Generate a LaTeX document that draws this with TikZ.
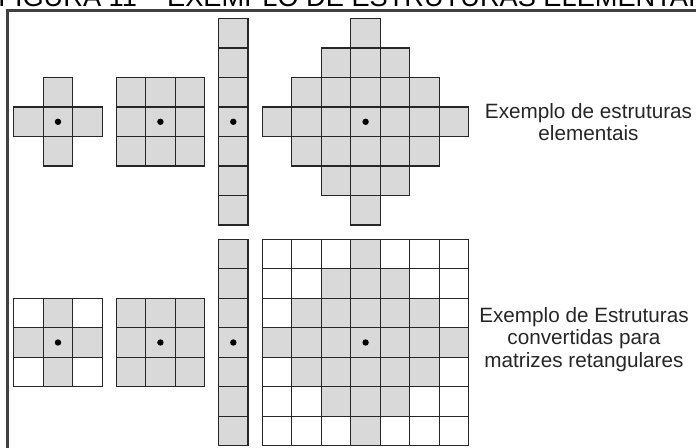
\documentclass[tikz,border=0pt]{standalone}
\usepackage{fontspec}
\setmainfont{Liberation Sans}
\usetikzlibrary{positioning}

\begin{document}
\begin{tikzpicture}[
    x=0.5pt, y=-0.5pt,
    cell/.style={draw=black!85, line width=0.6pt, fill=black!15, minimum size=14.75pt, inner sep=0pt, outer sep=0pt},
    blank/.style={cell, fill=white},
    pivot/.style={circle, fill=black, inner sep=0pt, minimum size=3.2pt},
    caption/.style={align=center, inner sep=0pt, text=black!85, font=\fontsize{10.35}{11.3}\selectfont}
]
\useasboundingbox (0,0) rectangle (696,448);
\node[anchor=base west, inner sep=0pt, font=\fontsize{13.6}{16}\selectfont] (title) at (-2,6.5) {FIGURA 11 – EXEMPLO DE ESTRUTURAS ELEMENTAIS};
\draw[line width=1.2pt, black!75] (7.5,470) |- (720,10.5);

\foreach \i/\j in {-1/0, 0/-1, 0/0, 1/0, 0/1}
    \node[cell] (cross-\i-\j) at ({58+29.5*\i}, {121.8+29.5*\j}) {};
\foreach \i in {-1,0,1}
    \foreach \j in {-1,0,1}
        \node[cell] (sq-\i-\j) at ({160.4+29.5*\i}, {121.8+29.5*\j}) {};
\foreach \j in {-3,...,3}
    \node[cell] (bar-\j) at (233.3, {121.8+29.5*\j}) {};
\foreach \i in {-3,...,3}
    \foreach \j in {-3,...,3} {
        \pgfmathtruncatemacro\dist{abs(\i)+abs(\j)}
        \ifnum\dist<4 \node[cell] (dia-\i-\j) at ({365.6+29.5*\i}, {121.8+29.5*\j}) {}; \fi
    }

\foreach \i in {-1,0,1}
    \foreach \j in {-1,0,1} {
        \pgfmathtruncatemacro\dist{abs(\i)+abs(\j)}
        \ifnum\dist<2 \node[cell] (rcross-\i-\j) at ({58+29.5*\i}, {342.5+29.5*\j}) {};
        \else \node[blank] (rcross-\i-\j) at ({58+29.5*\i}, {342.5+29.5*\j}) {}; \fi
    }
\foreach \i in {-1,0,1}
    \foreach \j in {-1,0,1}
        \node[cell] (rsq-\i-\j) at ({160.4+29.5*\i}, {342.5+29.5*\j}) {};
\foreach \j in {-3,...,3}
    \node[cell] (rbar-\j) at (233.3, {342.5+29.5*\j}) {};
\foreach \i in {-3,...,3}
    \foreach \j in {-3,...,3} {
        \pgfmathtruncatemacro\dist{abs(\i)+abs(\j)}
        \ifnum\dist<4 \node[cell] (rdia-\i-\j) at ({365.6+29.5*\i}, {342.5+29.5*\j}) {};
        \else \node[blank] (rdia-\i-\j) at ({365.6+29.5*\i}, {342.5+29.5*\j}) {}; \fi
    }

\node[pivot] (c1) at (cross-0-0) {};
\node[pivot] (c2) at (sq-0-0) {};
\node[pivot] (c3) at (bar-0) {};
\node[pivot] (c4) at (dia-0-0) {};
\node[pivot] (c5) at (rcross-0-0) {};
\node[pivot] (c6) at (rsq-0-0) {};
\node[pivot] (c7) at (rbar-0) {};
\node[pivot] (c8) at (rdia-0-0) {};

\node[caption] (upper) at (588.5,122) {Exemplo de estruturas\\elementais};
\node[caption] (lower) at (584,339.5) {Exemplo de Estruturas\\convertidas para\\matrizes retangulares};
\end{tikzpicture}
\end{document}
